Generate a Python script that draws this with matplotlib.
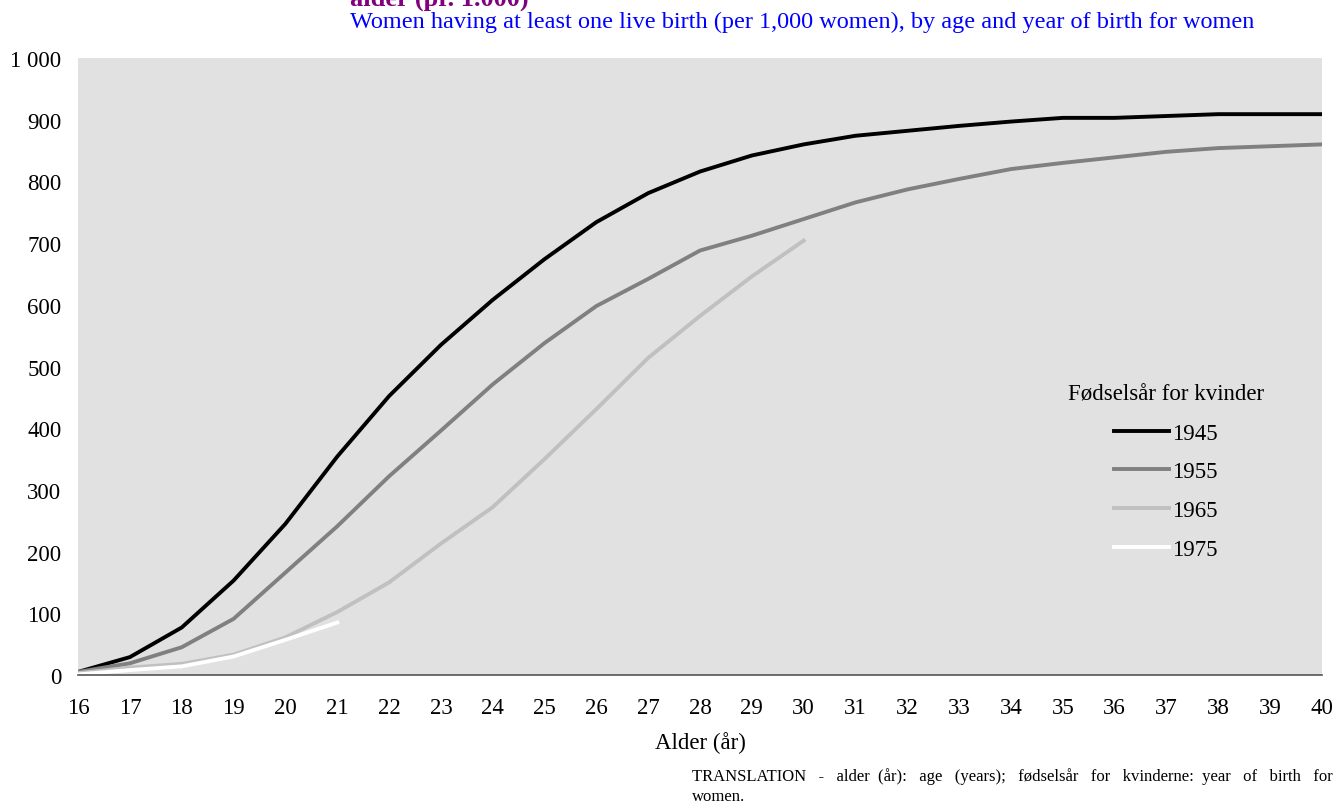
import numpy as np
import matplotlib
matplotlib.use("Agg")
import matplotlib.pyplot as plt

plt.rcParams['font.family'] = ['Liberation Serif', 'DejaVu Serif']

ages = np.arange(16, 41)
y1945 = [5, 29, 77, 153, 245, 354, 452, 535, 608, 674, 734, 781, 816, 842,
         860, 874, 882, 890, 897, 903, 903, 906, 909, 909, 909]
y1955 = [5, 19, 45, 91, 166, 241, 322, 396, 471, 538, 598, 642, 688, 712,
         739, 766, 787, 804, 820, 830, 839, 848, 854, 857, 860]
y1965 = [3, 12, 18, 33, 61, 102, 150, 213, 272, 350, 431, 514, 582, 646, 704]
y1975 = [1, 8, 14, 30, 57, 85]
cohorts = ['1945', '1955', '1965', '1975']
colors = ['#000000', '#808080', '#c0c0c0', '#ffffff']

fig = plt.figure(figsize=(13.39, 8.04), dpi=100)
ax = fig.add_axes([0.0583, 0.1592, 0.929, 0.7674])
ax.set_facecolor('#e1e1e1')

for vals, lab, c in zip([y1945, y1955, y1965, y1975], cohorts, colors):
    ax.plot(ages[:len(vals)], vals, color=c, lw=2.8, label=lab)

ax.set_xlim(16, 40)
ax.set_ylim(0, 1000)
ax.set_xticks(ages)
ax.set_yticks(np.arange(0, 1001, 100))
ax.set_yticklabels(['{:,}'.format(v).replace(',', ' ') for v in range(0, 1001, 100)])
ax.tick_params(length=0, labelsize=16.5)
ax.tick_params(axis='y', pad=12)
ax.tick_params(axis='x', pad=16)
for s in ['top', 'right', 'left']:
    ax.spines[s].set_visible(False)
ax.spines['bottom'].set_color('#555555')
ax.spines['bottom'].set_linewidth(1.2)
ax.set_xlabel('Alder (år)', fontsize=16.5, labelpad=9)

leg = ax.legend(title='Fødselsår for kvinder', frameon=False, fontsize=16.5,
                title_fontsize=16.5, loc='upper left',
                bbox_to_anchor=(1047 / 1339, 1 - 364 / 804),
                bbox_transform=fig.transFigure, handlelength=2.4,
                handletextpad=0.15, labelspacing=0.78)

# title line, only its lower part shows at the top edge
fig.text(350 / 1339, 1 - 6 / 804, 'alder (pr. 1.000)',
         color='#800080', fontsize=19, fontweight='bold', va='baseline', ha='left')
fig.text(350 / 1339, 1 - 28 / 804,
         'Women having at least one live birth (per 1,000 women), by age and year of birth for women',
         color='#0000ff', fontsize=17.5, va='baseline', ha='left')

# translation note, first line padded with spaces to look justified
note = 'TRANSLATION - alder (år): age (years); fødselsår for kvinderne: year of birth for'
words = note.split(' ')
fig.canvas.draw()
r = fig.canvas.get_renderer()


def width(s):
    t = fig.text(0, 0, s, fontsize=12)
    w = t.get_window_extent(r).width
    t.remove()
    return w


x0, x1 = 692, 1332
bare = sum(width(w) for w in words)
gap = (x1 - x0 - bare) / (len(words) - 1)
line = words[0]
done = width(words[0])
for i, w in enumerate(words[1:], start=1):
    target = sum(width(v) for v in words[:i]) + gap * i
    best = None
    for n in range(1, 6):
        cand = line + ' ' * n
        err = abs(width(cand + 'x') - width('x') - target)
        if best is None or err < best[0]:
            best = (err, cand)
    line = best[1] + w
fig.text(x0 / 1339, 1 - 781 / 804, line, fontsize=12, va='baseline', ha='left')
fig.text(x0 / 1339, 1 - 801 / 804, 'women.', fontsize=12, va='baseline', ha='left')

fig.savefig('out.png', dpi=100)
